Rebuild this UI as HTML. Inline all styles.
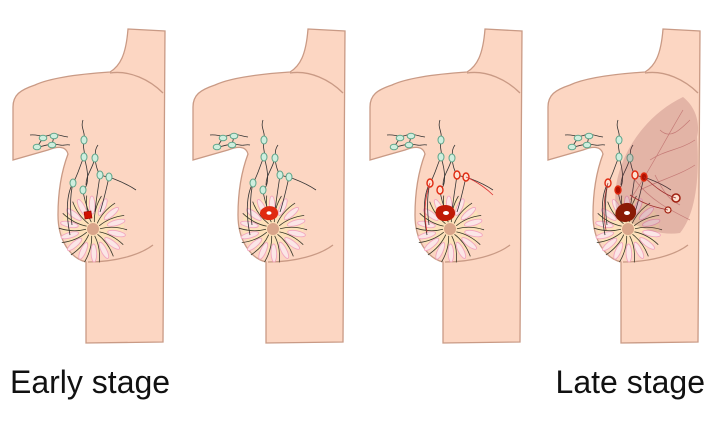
<!DOCTYPE html>
<html><head><meta charset="utf-8"><style>
html,body{margin:0;padding:0;background:#fff;}
svg{display:block}
text{font-family:"Liberation Sans",sans-serif;}
</style></head><body>
<svg width="716" height="430" viewBox="0 0 716 430" xmlns="http://www.w3.org/2000/svg">
<defs>
<g id="pet">
<ellipse cx="117" cy="229" rx="9" ry="2.8" fill="#fbe6e6" stroke="#f2a6bf" stroke-width="0.9"/>
<path d="M100,229 Q113,226 127,231" fill="none" stroke="#3a3a2a" stroke-width="0.8" transform="rotate(13 93 229)"/>
</g>
<g id="torso">
<path d="M128,29 L165,31 L163,342 L86,343 L86,262 C70,258 58,240 58,215 C58,190 62,170 68,154 C66,146 58,146 48,150 L13,160 L13,107 C13,95 20,90 35,85 C50,78 80,74 110,72 C120,66 126,55 128,29 Z" fill="#fcd6c2" stroke="#c99a85" stroke-width="1.3"/>
<path d="M153,245 C140,255 115,262 88,262" fill="none" stroke="#c99a85" stroke-width="1.3"/>
<path d="M110,73 C130,70 150,80 163,93" fill="none" stroke="#c99a85" stroke-width="1.3"/>
<ellipse cx="93" cy="226" rx="31" ry="28" fill="#fde3b8" opacity="0.8"/>
<use href="#pet" transform="rotate(11 93 229)"/>
<use href="#pet" transform="rotate(37 93 229)"/>
<use href="#pet" transform="rotate(63 93 229)"/>
<use href="#pet" transform="rotate(88 93 229)"/>
<use href="#pet" transform="rotate(114 93 229)"/>
<use href="#pet" transform="rotate(140 93 229)"/>
<use href="#pet" transform="rotate(165 93 229)"/>
<use href="#pet" transform="rotate(191 93 229)"/>
<use href="#pet" transform="rotate(217 93 229)"/>
<use href="#pet" transform="rotate(243 93 229)"/>
<use href="#pet" transform="rotate(268 93 229)"/>
<use href="#pet" transform="rotate(294 93 229)"/>
<use href="#pet" transform="rotate(320 93 229)"/>
<use href="#pet" transform="rotate(345 93 229)"/>
<circle cx="93" cy="229" r="6" fill="#d9a58a"/>
<g fill="none" stroke="#333" stroke-width="0.8">
<path d="M30,135 C38,134 42,138 50,135 C56,133 60,136 68,137"/>
<path d="M35,148 C44,146 50,143 60,145 C64,146 66,144 70,145"/>
<path d="M43,138 L37,147 M54,136 L52,145"/>
<path d="M83,120 C80,128 86,132 84,140 C82,150 86,152 84,157 C80,165 78,175 73,183 C70,195 70,210 72,225"/>
<path d="M84,157 C88,170 90,185 83,190 C84,200 88,210 90,215"/>
<path d="M98,145 C94,150 96,155 95,158 C96,168 98,172 100,175 C104,176 106,177 109,177 C116,180 124,182 136,190"/>
<path d="M95,158 C92,170 86,175 86,185 M100,175 C98,190 96,200 95,212"/>
<path d="M109,177 C106,190 104,200 100,212 M73,183 C66,195 66,215 70,235"/>
</g>
<g fill="#cfeede" stroke="#5fa58a" stroke-width="1">
<ellipse cx="43" cy="138" rx="3.8" ry="2.8"/><ellipse cx="54" cy="136" rx="3.8" ry="2.8"/>
<ellipse cx="37" cy="147" rx="3.8" ry="2.8"/><ellipse cx="52" cy="145" rx="3.8" ry="2.8"/>
<ellipse cx="84" cy="140" rx="3" ry="4"/>
<ellipse cx="84" cy="157" rx="3" ry="4"/><ellipse cx="95" cy="158" rx="3" ry="4"/>
</g>
</g>
<g id="g4" fill="#cfeede" stroke="#5fa58a" stroke-width="1">
<ellipse cx="100" cy="175" rx="3" ry="4"/><ellipse cx="109" cy="177" rx="3" ry="4"/>
<ellipse cx="73" cy="183" rx="3" ry="4"/><ellipse cx="83" cy="190" rx="3" ry="4"/>
</g>
</defs>
<use href="#torso" x="0"/>
<use href="#torso" x="180"/>
<use href="#torso" x="357"/>
<use href="#torso" x="535"/>
<use href="#g4" x="0"/>
<use href="#g4" x="180"/>
<g fill="#fde0d0" stroke="#e02a10" stroke-width="1.4">
<ellipse cx="457" cy="175" rx="3" ry="4"/><ellipse cx="466" cy="177" rx="3" ry="4"/>
<ellipse cx="430" cy="183" rx="3" ry="4"/><ellipse cx="440" cy="190" rx="3" ry="4"/>
</g>
<path d="M466,177 C478,182 488,190 493,195 M430,183 C424,200 424,215 427,232" fill="none" stroke="#d33" stroke-width="0.8"/>
<path d="M617,213 C608,175 635,120 683,97 C697,108 700,125 697,137 C700,180 695,215 680,233 C660,236 635,228 617,213 Z" fill="rgba(140,60,70,0.22)"/>
<g fill="none" stroke="rgba(160,50,60,0.45)" stroke-width="0.7">
<path d="M630,200 C650,170 665,140 683,110 M640,190 C660,180 680,175 695,165 M650,160 C665,150 680,150 695,140 M660,130 C670,140 680,130 690,120 M635,180 C650,200 670,210 690,220 M655,175 C665,195 670,200 680,205"/>
</g>
<g stroke="#e02a10" stroke-width="1.4">
<ellipse cx="635" cy="175" rx="3" ry="4" fill="#fde0d0"/><ellipse cx="608" cy="183" rx="3" ry="4" fill="#fde0d0"/>
<ellipse cx="644" cy="177" rx="3" ry="4" fill="#b01000"/><ellipse cx="618" cy="190" rx="3" ry="4" fill="#b01000"/>
</g>
<circle cx="676" cy="198" r="4" fill="#fde0d0" stroke="#a02010" stroke-width="1.5"/>
<circle cx="668" cy="210" r="3" fill="#fde0d0" stroke="#a02010" stroke-width="1.2"/>
<path d="M644,177 C655,187 665,195 676,198 M630,195 C645,205 655,207 668,210 M608,183 C603,200 603,215 606,230" fill="none" stroke="#a03030" stroke-width="0.8"/>
<path d="M84,212 L91,211 L92,218 L85,219 Z" fill="#d01000" stroke="#900" stroke-width="0.6"/>
<path d="M262,209 C268,204 277,206 278,212 C279,219 270,222 264,219 C259,216 259,212 262,209 Z" fill="#e02a10"/><ellipse cx="269" cy="213" rx="2.5" ry="1.8" fill="#fff"/>
<path d="M438,207 C445,203 454,205 455,212 C456,219 447,223 440,220 C435,217 434,211 438,207 Z" fill="#c01a05"/><ellipse cx="446" cy="213" rx="3" ry="2" fill="#fff"/>
<path d="M619,206 C626,200 635,203 636,211 C637,220 627,224 620,221 C614,218 614,211 619,206 Z" fill="#8a1a05"/><ellipse cx="627" cy="213" rx="3" ry="2" fill="#fff"/>
<text x="10" y="393" font-size="32" fill="#111">Early stage</text>
<text x="705" y="393" font-size="32" fill="#111" text-anchor="end">Late stage</text>
</svg>
</body></html>
